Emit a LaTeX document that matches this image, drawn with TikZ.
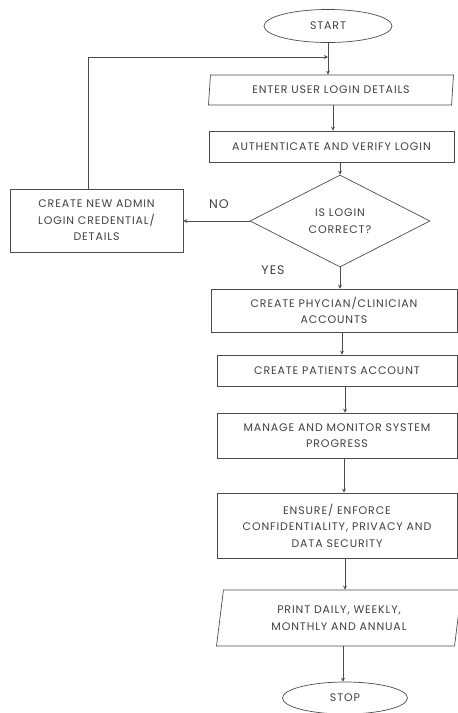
\documentclass[tikz,border=0pt]{standalone}
\usepackage{fontspec}
\setmainfont{Poppins}[LetterSpace=8]
\usepackage{xcolor}
\usetikzlibrary{shapes.geometric,arrows.meta}

\tikzset{
  box/.style={draw=black!70, rectangle, inner sep=0pt, align=center,
    text=black!75, font=\fontsize{11}{16.5}\selectfont},
  io/.style={box, trapezium, trapezium stretches body=true},
  term/.style={box, ellipse},
  test/.style={box, diamond, aspect=2},
  arr/.style={draw=black!70, line width=0.7pt, -{Stealth[length=4pt,width=4pt]}},
  lbl/.style={text=black!75, font=\fontsize{12.5}{14}\selectfont}
}

\begin{document}
\begin{tikzpicture}[x=1pt, y=-1pt, line width=0.7pt]
  \useasboundingbox (0,0) rectangle (458,713);

  \node[term, minimum width=128, minimum height=33] (start) at (328,26) {START};
  \node[io, trapezium left angle=76, trapezium right angle=104,
        minimum width=245, minimum height=30] (enter) at (331,90) {ENTER USER LOGIN DETAILS};
  \node[box, minimum width=245, minimum height=31] (auth) at (331.5,146.5) {AUTHENTICATE AND VERIFY LOGIN};
  \node[test, minimum width=180, minimum height=92] (check) at (340,221) {IS LOGIN\\CORRECT?};
  \node[box, minimum width=173, minimum height=63] (admin) at (96.5,220.5)
       {CREATE NEW ADMIN\\LOGIN CREDENTIAL/\\DETAILS};
  \node[box, minimum width=246, minimum height=43] (phys) at (334,310.5)
       {CREATE PHYCIAN/CLINICIAN\\ACCOUNTS};
  \node[box, minimum width=240, minimum height=31] (pat) at (337,370.5) {CREATE PATIENTS ACCOUNT};
  \node[box, minimum width=240, minimum height=45] (manage) at (337,435.5)
       {MANAGE AND MONITOR SYSTEM\\PROGRESS};
  \node[box, minimum width=240, minimum height=65] (ensure) at (337,525.5)
       {ENSURE/ ENFORCE\\CONFIDENTIALITY, PRIVACY AND\\DATA SECURITY};
  \node[io, trapezium left angle=74, trapezium right angle=106,
        minimum width=245, minimum height=56] (print) at (339,618)
       {PRINT DAILY, WEEKLY,\\MONTHLY AND ANNUAL};
  \node[term, minimum width=125, minimum height=32] (stop) at (345,698) {STOP};

  \node[lbl] (no) at (219,204) {NO};
  \node[lbl] (yes) at (273,270) {YES};

  \coordinate (join) at (start |- 0,57);

  \draw[arr] (start) -- (start |- enter.north);
  \draw[arr] (enter.south -| 333,0) -- (333,0 |- auth.north);
  \draw[arr] (auth.south -| check) -- (check.north);
  \draw[arr] (check.south) -- (check |- phys.north); % yes
  \draw[arr] (check.west) -- (check.west -| admin.east); % no
  \draw[arr] (admin.north -| 88,0) |- (join); % back to login
  \draw[arr] (phys.south -| 342,0) -- (342,0 |- pat.north);
  \draw[arr] (pat.south -| 345,0) -- (345,0 |- manage.north);
  \draw[arr] (manage.south -| 344,0) -- (344,0 |- ensure.north);
  \draw[arr] (ensure.south -| 345,0) -- (345,0 |- print.north);
  \draw[arr] (print.south -| 343,0) -- (343,0 |- stop.north);
\end{tikzpicture}
\end{document}
